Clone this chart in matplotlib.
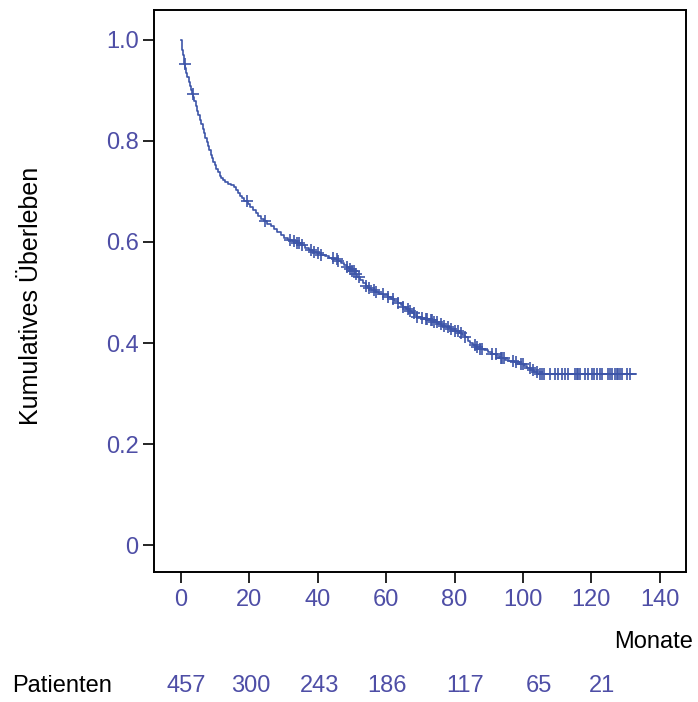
import matplotlib.pyplot as plt
import numpy as np

plt.rcParams['font.family'] = ['Liberation Sans', 'DejaVu Sans']

# Kaplan-Meier Schätzung: Ereigniszeiten (Monate) und kumulatives Überleben
zeiten = [0, 0.2, 0.4, 0.6, 0.8, 1.0, 1.3, 1.6, 1.9, 2.2, 2.5, 2.8, 3.1, 3.5,
          3.9, 4.3, 4.7, 5.1, 5.5, 5.9, 6.3, 6.7, 7.1, 7.5, 7.9, 8.3, 8.7,
          9.1, 9.5, 9.9, 10.3, 10.8, 11.3, 11.8, 12.3, 13.0, 13.8, 14.6,
          15.4, 16.0, 16.6, 17.2, 17.8, 18.5, 19.5, 20.2, 21.0, 21.8, 22.6,
          23.4, 24.2, 25.2, 26.2, 27.2, 28.2, 29.2, 30.2, 31.2, 32.5, 33.8,
          35.0, 36.2, 37.4, 38.6, 39.8, 41.0, 42.2, 43.4, 44.6, 45.8, 46.8,
          47.6, 48.4, 49.2, 50.0, 50.8, 51.6, 52.4, 53.2, 54.0, 54.8, 55.6,
          56.8, 58.0, 59.2, 60.4, 61.4, 62.4, 63.4, 64.2, 65.0, 65.8, 66.6,
          67.4, 68.2, 69.0, 70.2, 71.5, 72.8, 74.0, 75.2, 76.4, 77.6, 78.8,
          80.0, 81.2, 82.2, 83.0, 83.8, 84.6, 85.4, 86.4, 87.4, 88.6, 89.8,
          91.0, 92.2, 93.4, 94.6, 96.0, 97.5, 99.0, 100.2, 101.2, 102.2,
          103.2, 104.2, 133.0]
ueberleben = [1.000, 0.990, 0.979, 0.969, 0.960, 0.952, 0.944, 0.935, 0.926,
              0.916, 0.908, 0.900, 0.893, 0.886, 0.878, 0.869, 0.860, 0.851,
              0.842, 0.833, 0.824, 0.815, 0.806, 0.797, 0.789, 0.781, 0.773,
              0.766, 0.759, 0.752, 0.745, 0.738, 0.731, 0.726, 0.722, 0.718,
              0.715, 0.712, 0.709, 0.703, 0.697, 0.691, 0.686, 0.681, 0.675,
              0.669, 0.663, 0.657, 0.651, 0.646, 0.641, 0.636, 0.631, 0.625,
              0.619, 0.613, 0.608, 0.604, 0.601, 0.598, 0.594, 0.589, 0.585,
              0.581, 0.578, 0.575, 0.572, 0.569, 0.566, 0.563, 0.559, 0.555,
              0.551, 0.547, 0.542, 0.537, 0.531, 0.525, 0.519, 0.513, 0.508,
              0.504, 0.501, 0.498, 0.495, 0.491, 0.487, 0.483, 0.479, 0.475,
              0.471, 0.467, 0.463, 0.459, 0.455, 0.451, 0.449, 0.447, 0.445,
              0.441, 0.437, 0.434, 0.431, 0.428, 0.424, 0.420, 0.416, 0.411,
              0.405, 0.400, 0.396, 0.392, 0.389, 0.386, 0.382, 0.378, 0.374,
              0.370, 0.367, 0.364, 0.362, 0.359, 0.355, 0.351, 0.347, 0.343,
              0.339, 0.339]

# zensierte Beobachtungen (Monate)
zensiert = [1.2, 3.4, 19.3, 24.6, 32, 33, 33.8, 34.5, 35.3, 38, 39, 40, 41,
            44.5, 45.5, 46, 48.6, 49.3, 50, 50.6, 51.2, 52, 54, 55, 56.5, 57,
            59, 60.5, 62, 63.5, 65, 66.5, 67, 68, 69, 70.5, 71.5, 72, 73, 73.5,
            74, 75, 76, 77, 78, 79, 80, 81, 82, 83, 86, 86.5, 87.5, 88, 91, 92,
            93.5, 94, 94.5, 97, 98, 99.5, 100, 102, 103, 104, 105, 105.5, 106,
            108, 109.4, 110.2, 111.4, 112.3, 113.2, 115.2, 115.7, 116.2, 116.7,
            118.1, 119, 120.2, 120.9, 121.6, 122.4, 123.1, 124.9, 125.4, 126,
            126.9, 127.4, 127.9, 128.4, 128.9, 130.4, 131.3]

x_ticks = [0, 20, 40, 60, 80, 100, 120, 140]
y_ticks = [0, 0.2, 0.4, 0.6, 0.8, 1.0]
y_labels = ['0', '0.2', '0.4', '0.6', '0.8', '1.0']
patienten = ['457', '300', '243', '186', '117', '65', '21']
patienten_x = [1.5, 20.3, 40.6, 60.2, 83, 104.6, 123]

blau = '#3d55a8'
schrift = '#4e4ea6'

fig = plt.figure(figsize=(6.98, 7.02), dpi=100)
ax = fig.add_axes([0.2206, 0.1852, 0.7624, 0.8006])

ax.step(zeiten, ueberleben, where='post', color=blau, lw=1.2)
z_y = [ueberleben[np.searchsorted(zeiten, t, side='right') - 1] for t in zensiert]
ax.plot(zensiert, z_y, ls='none', marker='+', ms=8, mew=1.2, color=blau)

ax.set_xlim(-7.9, 147.7)
ax.set_ylim(-0.053, 1.059)
ax.set_xticks(x_ticks)
ax.set_xticklabels([str(v) for v in x_ticks])
ax.set_yticks(y_ticks)
ax.set_yticklabels(y_labels)
ax.tick_params(axis='both', direction='out', length=8, width=1.2,
               colors='black', labelcolor=schrift, labelsize=17)
ax.tick_params(axis='x', pad=4)
ax.tick_params(axis='y', pad=3)
for s in ax.spines.values():
    s.set_linewidth(1.4)

ax.set_ylabel('Kumulatives Überleben', fontsize=18)
ax.yaxis.set_label_coords(-0.209, 0.491)

fig.text(0.993, 0.085, 'Monate', ha='right', va='center', fontsize=17)
fig.text(0.018, 0.023, 'Patienten', ha='left', va='center', fontsize=17)
for lab, xv in zip(patienten, patienten_x):
    ax.annotate(lab, xy=(xv, 0), xycoords=('data', 'figure fraction'),
                xytext=(0, 0.023 * 702), textcoords='offset pixels',
                ha='center', va='center', fontsize=17, color=schrift)

fig.savefig('out.png', dpi=100)
